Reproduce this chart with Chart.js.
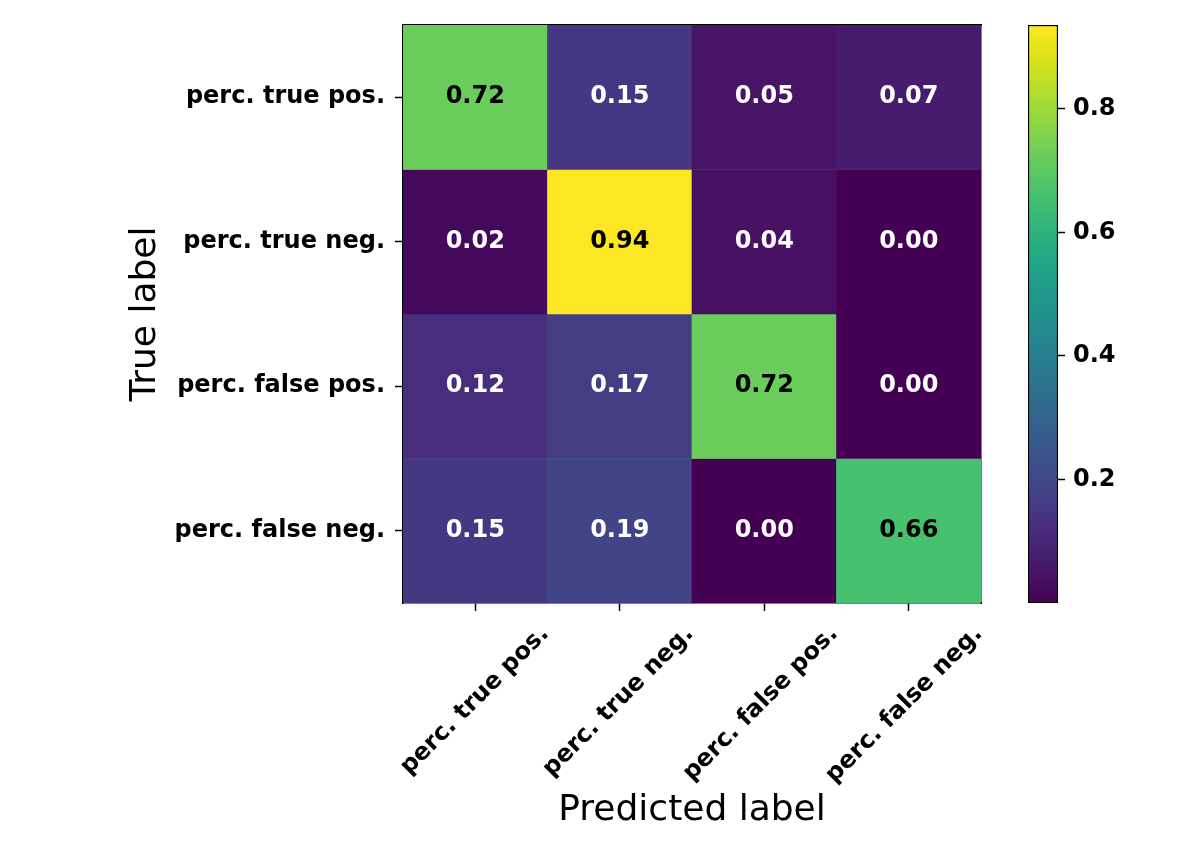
<!DOCTYPE html>
<html>
<head>
<meta charset="utf-8">
<script src="https://cdn.jsdelivr.net/npm/chart.js@4.4.1/dist/chart.umd.min.js"></script>
<style>
html,body{margin:0;padding:0;background:#fff;}
#main{position:absolute;left:0;top:0;width:1196px;height:851px;}
#cbar{position:absolute;left:1000px;top:0;width:196px;height:851px;}
</style>
</head>
<body>
<div id="main"><canvas id="c1"></canvas></div>
<div id="cbar"><canvas id="c2"></canvas></div>
<script>
// ---- data ----
const predictedLabels = ['perc. true pos.', 'perc. true neg.', 'perc. false pos.', 'perc. false neg.'];
const trueLabels = ['perc. true pos.', 'perc. true neg.', 'perc. false pos.', 'perc. false neg.'];
const rowTruePos  = [0.72, 0.15, 0.05, 0.07];
const rowTrueNeg  = [0.02, 0.936, 0.04, 0.00];
const rowFalsePos = [0.12, 0.17, 0.72, 0.00];
const rowFalseNeg = [0.15, 0.19, 0.00, 0.66];
const colorbarTicks = [0.2, 0.4, 0.6, 0.8];
const rows = [rowTruePos, rowTrueNeg, rowFalsePos, rowFalseNeg];

// ---- viridis colormap ----
const VIRIDIS = ['#440154','#471365','#482475','#463480','#414487','#3b528b','#355f8d','#2f6c8e',
  '#2a788e','#25848e','#21918c','#1e9c89','#22a884','#2fb47c','#44bf70','#5ec962','#7ad151',
  '#9bd93c','#bddf26','#dfe318','#fde725'];
function hexToRgb(h){return [parseInt(h.slice(1,3),16),parseInt(h.slice(3,5),16),parseInt(h.slice(5,7),16)];}
const VRGB = VIRIDIS.map(hexToRgb);
function viridis(t){
  t = Math.max(0, Math.min(1, t));
  const p = t * (VRGB.length - 1);
  const i = Math.min(Math.floor(p), VRGB.length - 2);
  const f = p - i;
  const a = VRGB[i], b = VRGB[i+1];
  const c = a.map((v,k)=>Math.round(v + (b[k]-v)*f));
  return 'rgb(' + c.join(',') + ')';
}
const allVals = rows.flat();
const vmin = Math.min(...allVals);
const vmax = Math.max(...allVals);
const norm = v => (v - vmin) / (vmax - vmin);

const FONT = "'DejaVu Sans', sans-serif";

// ---- cell text plugin ----
const cellText = {
  id: 'cellText',
  afterDatasetsDraw(chart){
    const ctx = chart.ctx;
    ctx.save();
    ctx.font = 'bold 24px ' + FONT;
    ctx.textAlign = 'center';
    ctx.textBaseline = 'middle';
    rows.forEach((r, i) => {
      const meta = chart.getDatasetMeta(i);
      meta.data.forEach((el, j) => {
        const v = r[j];
        ctx.fillStyle = v > (vmin + vmax) / 2 ? '#000' : '#fff';
        ctx.fillText(v.toFixed(2), el.x, (el.y + el.base) / 2);
      });
    });
    ctx.restore();
  }
};

const tickFont = {family: FONT, size: 24, weight: 'bold'};

new Chart(document.getElementById('c1'), {
  type: 'bar',
  data: {
    labels: predictedLabels,
    datasets: rows.map((r, i) => ({
      label: trueLabels[i],
      data: r.map(() => [i, i + 1]),
      backgroundColor: r.map(v => viridis(norm(v))),
      grouped: false,
      barPercentage: 1,
      categoryPercentage: 1,
      borderWidth: 0,
      xAxisID: 'x',
      yAxisID: 'y'
    }))
  },
  options: {
    responsive: true,
    maintainAspectRatio: false,
    animation: false,
    layout: {padding: {left: 120, right: 215, top: 25, bottom: 0}},
    plugins: {legend: {display: false}, tooltip: {enabled: false}},
    scales: {
      x: {
        type: 'category',
        position: 'bottom',
        grid: {display: true, drawOnChartArea: false, drawTicks: true, tickLength: 8, tickColor: '#000', tickWidth: 1.5, offset: false},
        border: {display: true, color: '#000', width: 1.5},
        ticks: {color: '#000', font: tickFont, maxRotation: 45, minRotation: 45, labelOffset: 70, padding: 9, autoSkip: false},
        title: {display: true, text: 'Predicted label', color: '#000', font: {family: FONT, size: 36}, padding: {top: 0, bottom: 19}},
        afterFit(s){ s.height = 248; }
      },
      y: {
        type: 'linear',
        position: 'left',
        min: 0, max: 4,
        reverse: true,
        afterBuildTicks(s){ s.ticks = trueLabels.map((_, i) => ({value: i + 0.5})); },
        grid: {display: true, drawOnChartArea: false, drawTicks: true, tickLength: 8, tickColor: '#000', tickWidth: 1.5},
        border: {display: true, color: '#000', width: 1.5},
        ticks: {color: '#000', font: tickFont, padding: 10, autoSkip: false, callback: v => trueLabels[Math.floor(v)]},
        title: {display: true, text: 'True label', color: '#000', font: {family: FONT, size: 36}, padding: {top: 4, bottom: 0}},
        afterFit(s){ s.width = 283; }
      },
      x2: {
        type: 'category',
        labels: predictedLabels,
        position: 'top',
        grid: {display: false},
        ticks: {display: false},
        border: {display: true, color: '#000', width: 1.5},
        afterFit(s){ s.height = 0; }
      },
      y2: {
        type: 'linear',
        position: 'right',
        min: 0, max: 4,
        grid: {display: false},
        ticks: {display: false},
        border: {display: true, color: '#000', width: 1.5},
        afterFit(s){ s.width = 0; }
      }
    }
  },
  plugins: [cellText]
});

// ---- colorbar ----
function colorbarGradient(ctx){
  const chart = ctx.chart;
  const area = chart.chartArea;
  if (!area) return VIRIDIS[0];
  const yScale = chart.scales.y;
  const g = chart.ctx.createLinearGradient(0, yScale.getPixelForValue(vmin), 0, yScale.getPixelForValue(vmax));
  VIRIDIS.forEach((c, i) => g.addColorStop(i / (VIRIDIS.length - 1), c));
  return g;
}

new Chart(document.getElementById('c2'), {
  type: 'bar',
  data: {
    labels: ['colorbar'],
    datasets: [{
      data: [[vmin, vmax]],
      backgroundColor: colorbarGradient,
      borderColor: '#000',
      borderWidth: 1.5,
      borderSkipped: false,
      barPercentage: 1,
      categoryPercentage: 1
    }]
  },
  options: {
    responsive: true,
    maintainAspectRatio: false,
    animation: false,
    layout: {padding: {left: 28, right: 0, top: 25, bottom: 248}},
    plugins: {legend: {display: false}, tooltip: {enabled: false}},
    scales: {
      x: {display: false},
      y: {
        type: 'linear',
        position: 'right',
        min: vmin, max: vmax,
        afterBuildTicks(s){ s.ticks = colorbarTicks.map(v => ({value: v})); },
        grid: {display: true, drawOnChartArea: false, drawTicks: true, tickLength: 7, tickColor: '#000', tickWidth: 1.5},
        border: {display: false},
        ticks: {color: '#000', font: tickFont, padding: 8, callback: v => v.toFixed(1)},
        afterFit(s){ s.width = 138; }
      }
    }
  }
});
</script>
</body>
</html>
